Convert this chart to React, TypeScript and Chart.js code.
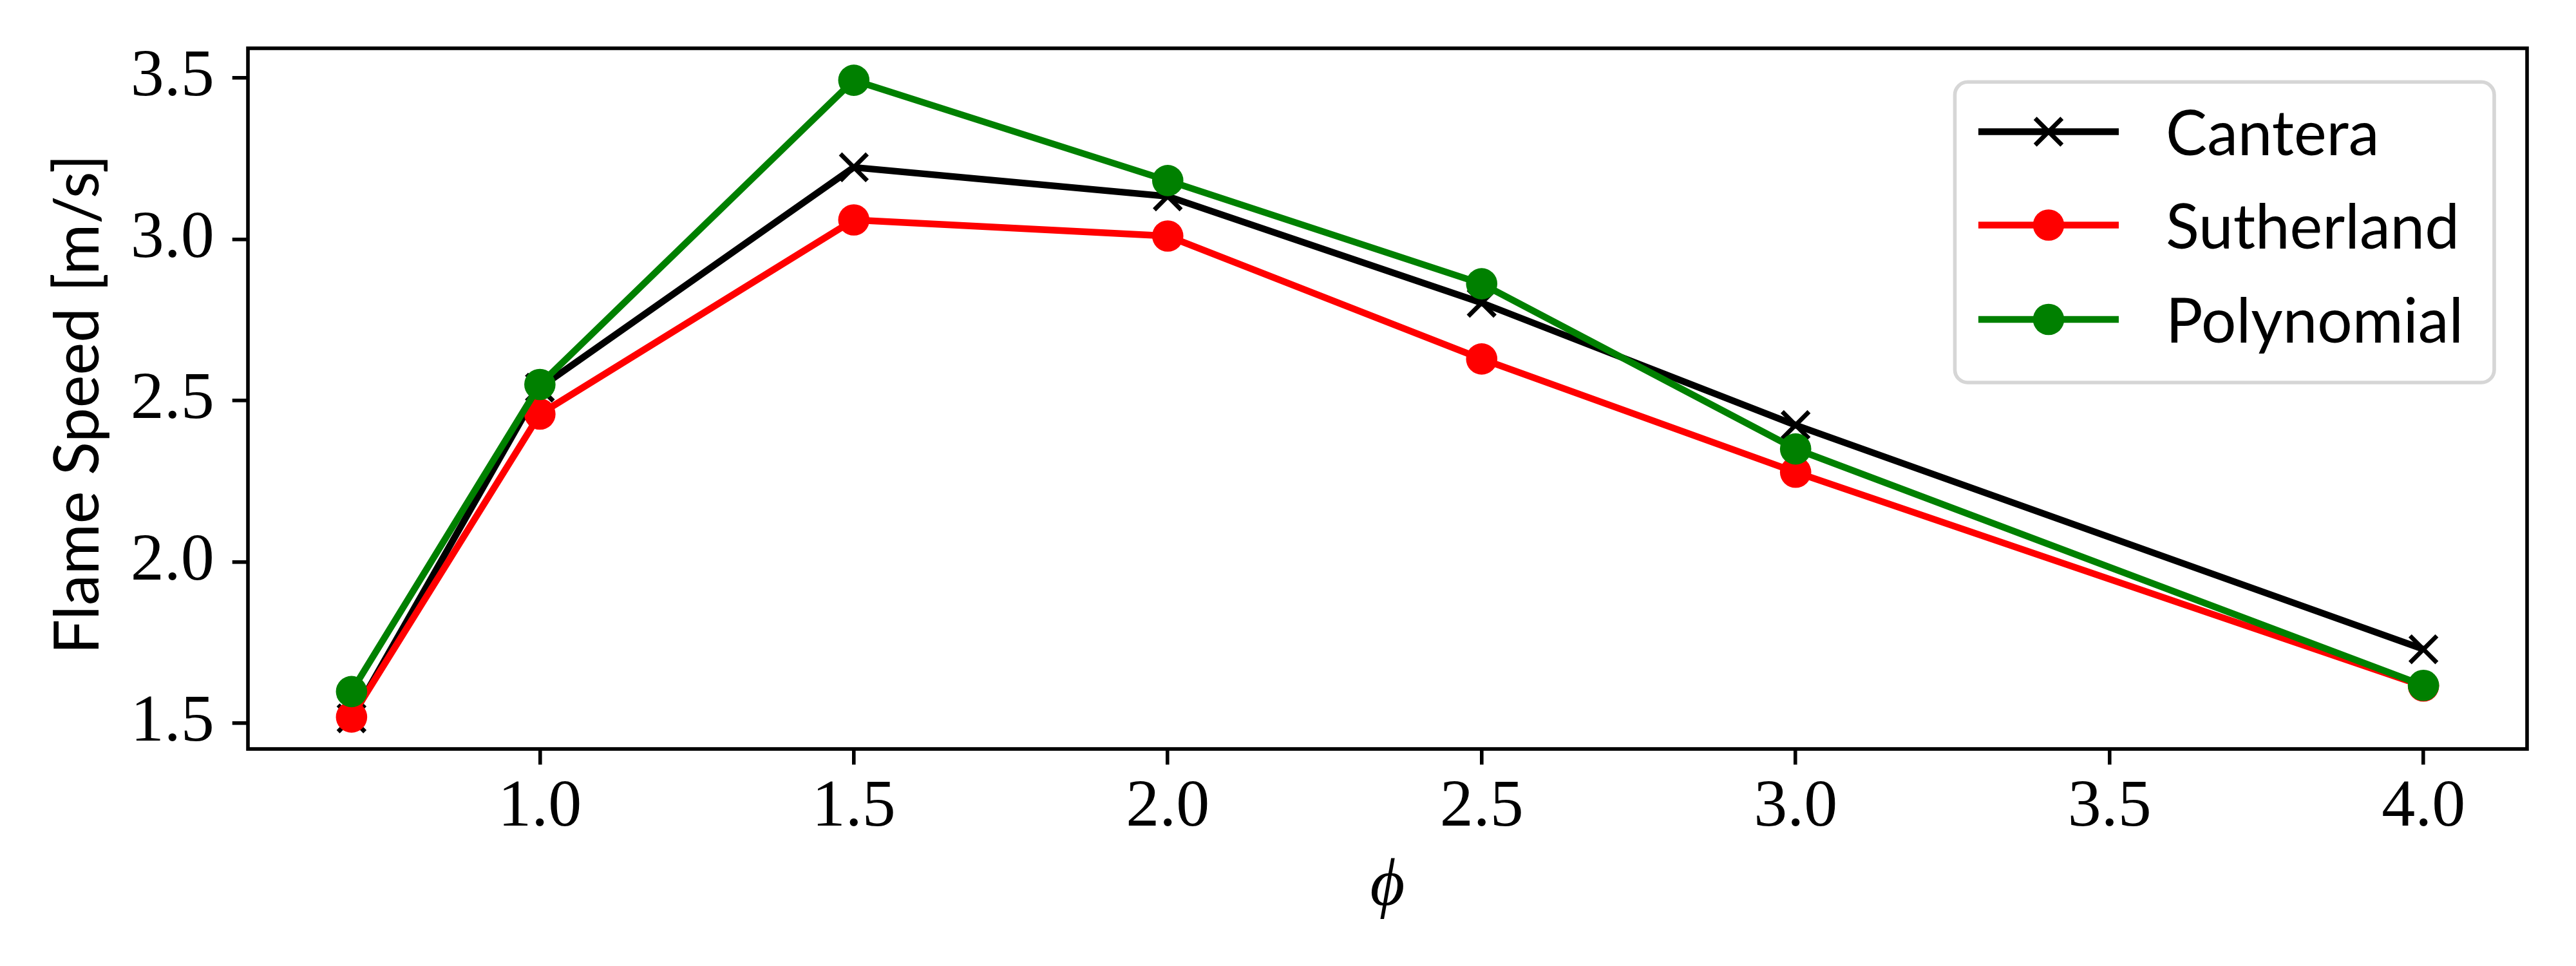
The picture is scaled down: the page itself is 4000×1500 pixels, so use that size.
import React, { useEffect, useRef } from 'react';
import { Chart, registerables } from 'chart.js';

Chart.register(...registerables);

// ---- data ----
const phiValues = [0.7, 1.0, 1.5, 2.0, 2.5, 3.0, 4.0];
const canteraValues = [1.515, 2.54, 3.223, 3.133, 2.803, 2.424, 1.729];
const sutherlandValues = [1.519, 2.458, 3.06, 3.01, 2.629, 2.278, 1.615];
const polynomialValues = [1.598, 2.55, 3.493, 3.182, 2.862, 2.35, 1.617];

const seriesNames = ['Cantera', 'Sutherland', 'Polynomial'];
const seriesColors = ['#000000', '#ff0000', '#008000'];

const xTickValues = [1.0, 1.5, 2.0, 2.5, 3.0, 3.5, 4.0];
const yTickValues = [1.5, 2.0, 2.5, 3.0, 3.5];

const xTitle = '\u03D5';
const yTitle = 'Flame Speed [m/s]';

// ---- styling ----
const SERIF = '"Liberation Serif", serif';
const SANS = 'Lato, "Open Sans", sans-serif';
const TICK_FONT_SIZE = 104;
const LABEL_FONT_SIZE = 96;
const LINE_W = 10.4;
const SPINE_W = 5.6;

const toPoints = (ys: number[]) => phiValues.map((x, i) => ({ x, y: ys[i] }));

const framePlugin = {
  id: 'mplFrame',
  afterDatasetsDraw(chart: any) {
    const { ctx, chartArea } = chart;
    ctx.save();
    ctx.strokeStyle = '#000';
    ctx.lineWidth = SPINE_W;
    ctx.lineJoin = 'miter';
    ctx.strokeRect(chartArea.left, chartArea.top, chartArea.right - chartArea.left, chartArea.bottom - chartArea.top);
    ctx.restore();
  },
};

const titlesPlugin = {
  id: 'mplTitles',
  afterDraw(chart: any) {
    const { ctx, chartArea } = chart;
    ctx.save();
    ctx.fillStyle = '#000';
    // y title
    ctx.save();
    ctx.translate(153, (chartArea.top + chartArea.bottom) / 2 + 9);
    ctx.rotate(-Math.PI / 2);
    ctx.textAlign = 'center';
    ctx.textBaseline = 'alphabetic';
    ctx.font = `${LABEL_FONT_SIZE}px ${SANS}`;
    ctx.fillText(yTitle, 0, 0);
    ctx.restore();
    // x title
    ctx.textAlign = 'center';
    ctx.textBaseline = 'alphabetic';
    ctx.font = `italic ${TICK_FONT_SIZE}px ${SERIF}`;
    ctx.fillText(xTitle, (chartArea.left + chartArea.right) / 2, 1405);
    ctx.restore();
  },
};

const legendPlugin = {
  id: 'mplLegend',
  afterDraw(chart: any) {
    const ctx = chart.ctx;
    const bx = 3035.5, by = 127.3, bw = 3873 - 3035.5, bh = 594 - 127.3, r = 20;
    ctx.save();
    ctx.beginPath();
    ctx.moveTo(bx + r, by);
    ctx.arcTo(bx + bw, by, bx + bw, by + bh, r);
    ctx.arcTo(bx + bw, by + bh, bx, by + bh, r);
    ctx.arcTo(bx, by + bh, bx, by, r);
    ctx.arcTo(bx, by, bx + bw, by, r);
    ctx.closePath();
    ctx.fillStyle = 'rgba(255,255,255,0.8)';
    ctx.fill();
    ctx.strokeStyle = '#d6d6d6';
    ctx.lineWidth = SPINE_W;
    ctx.stroke();

    const rows = [204.5, 349.5, 496];
    const x0 = 3072, x1 = 3290, xm = 3181;
    chart.data.datasets.forEach((ds: any, i: number) => {
      const y = rows[i];
      ctx.strokeStyle = ds.borderColor;
      ctx.lineWidth = LINE_W;
      ctx.lineCap = 'butt';
      ctx.beginPath();
      ctx.moveTo(x0, y);
      ctx.lineTo(x1, y);
      ctx.stroke();
      if (ds.pointStyle === 'crossRot') {
        const h = 20.8;
        ctx.lineWidth = 6.9;
        ctx.beginPath();
        ctx.moveTo(xm - h, y - h);
        ctx.lineTo(xm + h, y + h);
        ctx.moveTo(xm + h, y - h);
        ctx.lineTo(xm - h, y + h);
        ctx.stroke();
      } else {
        ctx.fillStyle = ds.pointBackgroundColor;
        ctx.beginPath();
        ctx.arc(xm, y, 24.3, 0, Math.PI * 2);
        ctx.fill();
      }
      ctx.fillStyle = '#000';
      ctx.font = `${LABEL_FONT_SIZE}px ${SANS}`;
      ctx.textAlign = 'left';
      ctx.textBaseline = 'alphabetic';
      ctx.fillText(ds.label, 3363, y + 36);
    });
    ctx.restore();
  },
};

export default function App() {
  const canvasRef = useRef<HTMLCanvasElement | null>(null);

  useEffect(() => {
    const canvas = canvasRef.current;
    if (!canvas) return;
    const seriesValues = [canteraValues, sutherlandValues, polynomialValues];
    const datasets = seriesNames.map((name, i) => {
      const isCross = i === 0;
      return {
        label: name,
        data: toPoints(seriesValues[i]),
        borderColor: seriesColors[i],
        backgroundColor: seriesColors[i],
        borderWidth: LINE_W,
        borderJoinStyle: 'round' as const,
        borderCapStyle: 'butt' as const,
        tension: 0,
        fill: false,
        pointStyle: isCross ? 'crossRot' : 'circle',
        pointRadius: isCross ? 29.4 : 24.3,
        pointBorderWidth: isCross ? 6.9 : 0,
        pointBorderColor: seriesColors[i],
        pointBackgroundColor: seriesColors[i],
        pointHoverRadius: isCross ? 29.4 : 24.3,
        order: 3 - i,
      };
    });

    const tickFont = { family: SERIF, size: TICK_FONT_SIZE };
    const gridCfg = {
      display: true,
      drawOnChartArea: false,
      drawTicks: true,
      tickLength: 24.3,
      tickWidth: SPINE_W,
      tickColor: '#000',
      color: '#000',
      lineWidth: SPINE_W,
    };

    const chart = new Chart(canvas, {
      type: 'line',
      data: { datasets: datasets as any },
      options: {
        responsive: false,
        devicePixelRatio: 1,
        animation: false,
        events: [],
        layout: { padding: { left: 0, top: 75, right: 76, bottom: 0 } },
        plugins: {
          legend: { display: false },
          tooltip: { enabled: false },
        },
        scales: {
          x: {
            type: 'linear',
            min: 0.535,
            max: 4.165,
            afterBuildTicks: (s: any) => {
              s.ticks = xTickValues.map((v) => ({ value: v }));
            },
            afterFit: (s: any) => {
              s.height = 337;
              s.paddingLeft = 0;
              s.paddingRight = 0;
            },
            grid: gridCfg as any,
            border: { display: false },
            ticks: {
              color: '#000',
              font: tickFont,
              padding: 5,
              maxRotation: 0,
              autoSkip: false,
              callback: (v: any) => Number(v).toFixed(1),
            },
            title: { display: false },
          },
          y: {
            type: 'linear',
            min: 1.42,
            max: 3.592,
            afterBuildTicks: (s: any) => {
              s.ticks = yTickValues.map((v) => ({ value: v }));
            },
            afterFit: (s: any) => {
              s.width = 385;
              s.paddingTop = 0;
              s.paddingBottom = 0;
            },
            grid: gridCfg as any,
            border: { display: false },
            ticks: {
              color: '#000',
              font: tickFont,
              padding: 28,
              autoSkip: false,
              callback: (v: any) => Number(v).toFixed(1),
            },
            title: { display: false },
          },
        },
      },
      plugins: [framePlugin, titlesPlugin, legendPlugin],
    });

    return () => chart.destroy();
  }, []);

  return (
    <div style={{ position: 'fixed', left: 0, top: 0, width: 4000, height: 1500, background: '#fff' }}>
      <canvas ref={canvasRef} width={4000} height={1500} style={{ display: 'block', width: 4000, height: 1500 }} />
    </div>
  );
}
